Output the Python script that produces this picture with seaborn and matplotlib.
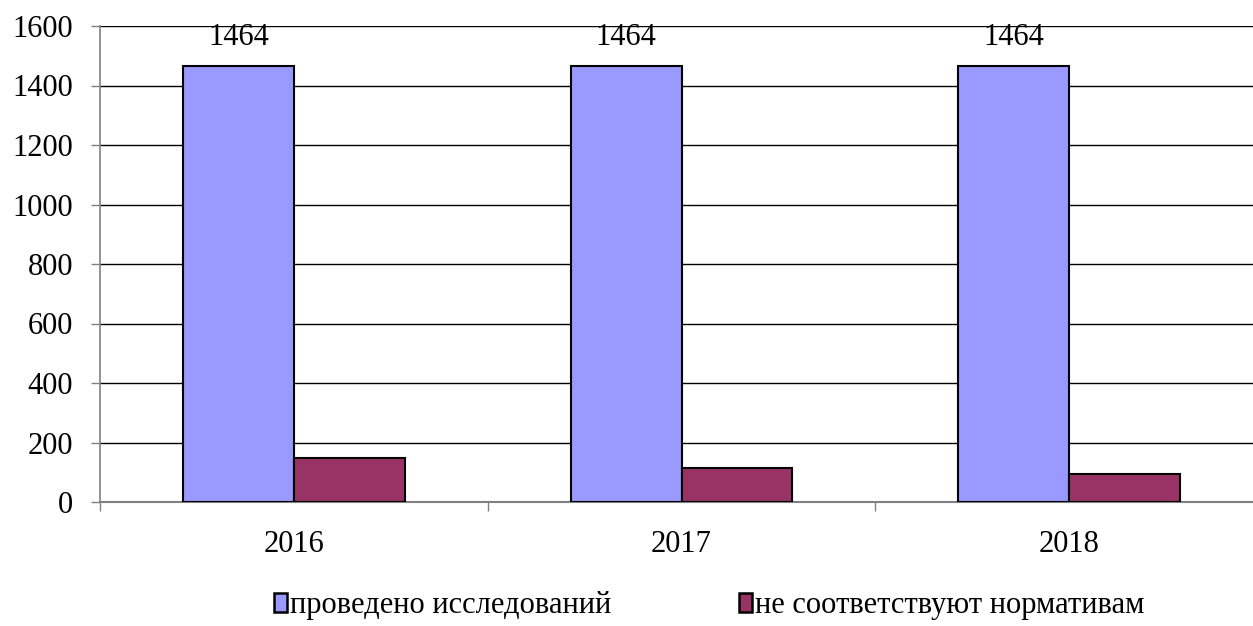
import matplotlib
matplotlib.use("Agg")
import matplotlib.pyplot as plt
import seaborn as sns
import pandas as pd
from matplotlib.patches import Patch

years = ["2016", "2017", "2018"]
series_names = ["проведено исследований", "не соответствуют нормативам"]
conducted = [1464, 1464, 1464]
noncompliant = [148, 113, 95]
colors = ["#9999FF", "#993366"]

df = pd.DataFrame({
    "year": years * 2,
    "value": conducted + noncompliant,
    "series": [series_names[0]] * 3 + [series_names[1]] * 3,
})

sns.set_theme(style="white")
plt.rcParams["font.family"] = ["Liberation Serif", "DejaVu Serif"]
plt.rcParams["text.color"] = "black"
plt.rcParams["xtick.color"] = "#808080"
plt.rcParams["ytick.color"] = "#808080"
plt.rcParams["xtick.labelcolor"] = "black"
plt.rcParams["ytick.labelcolor"] = "black"

fig = plt.figure(figsize=(12.53, 6.26), dpi=100)
ax = fig.add_axes([100 / 1253, 1 - 502 / 626, 1163 / 1253, 476 / 626])

sns.barplot(data=df, x="year", y="value", hue="series", palette=colors,
            width=0.572, edgecolor="black", linewidth=1.5, ax=ax,
            legend=False, saturation=1, zorder=3)

ax.set_ylim(0, 1600)
ax.set_xlim(-0.5, 2.5)
ax.set_yticks(range(0, 1601, 200))
ax.yaxis.grid(True, color="black", linewidth=1, zorder=0)
ax.set_axisbelow(True)
for s in ["top", "right"]:
    ax.spines[s].set_visible(False)
ax.spines["left"].set_color("#808080")
ax.spines["left"].set_linewidth(1.2)
ax.spines["bottom"].set_color("#808080")
ax.spines["bottom"].set_linewidth(1.5)
ax.set_xlabel("")
ax.set_ylabel("")
ax.set_xticks([0, 1, 2])
ax.set_xticklabels(years)
ax.set_xticks([-0.5, 0.5, 1.5, 2.5], minor=True)
ax.tick_params(axis="x", which="major", bottom=False, length=0, pad=20, labelsize=22)
ax.tick_params(axis="x", which="minor", bottom=True, length=6.5, width=1, direction="out")
ax.tick_params(axis="y", length=6.5, width=1, direction="out", labelsize=22, pad=13, left=True)

# value labels on blue bars
bars = ax.containers[0]
for rect, v in zip(bars, conducted):
    ax.text(rect.get_x() + rect.get_width() / 2, v + 50, str(v),
            ha="center", va="bottom", fontsize=22)

handles = [Patch(facecolor=c, edgecolor="black", linewidth=1.8) for c in colors]
fig.legend(handles, series_names, loc="center", bbox_to_anchor=(0.566, 1 - 606 / 626),
           ncol=2, frameon=False, fontsize=22, handlelength=0.4, handleheight=0.6,
           handletextpad=0.1, columnspacing=4.2)

fig.savefig("out.png", dpi=100)
